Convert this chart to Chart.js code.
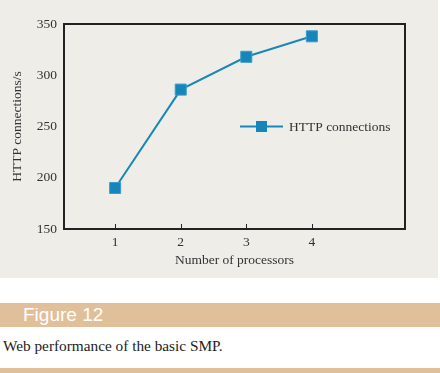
<!DOCTYPE html>
<html>
<head>
<meta charset="utf-8">
<title>Figure 12</title>
<script src="https://cdn.jsdelivr.net/npm/chart.js"></script>
<style>
  html, body { margin: 0; padding: 0; background: #fff; width: 440px; height: 373px; overflow: hidden; }
  #panel { position: absolute; left: 0; top: 0; width: 438px; height: 278px; background: #efede8; }
  #banner { position: absolute; left: 0; top: 303px; width: 440px; height: 24px; background: #e0c09a;
    color: #fff; font: 19px "Liberation Sans", Arial, sans-serif; line-height: 24px; }
  #banner span { position: absolute; left: 23px; top: 0; }
  #caption { position: absolute; left: 3px; top: 337px; font: 15.3px "Liberation Serif", "Times New Roman", serif; color: #222; }
  #bottomband { position: absolute; left: 0; top: 368px; width: 440px; height: 5px; background: #e0c09a; }
</style>
</head>
<body>
<div id="panel"><canvas id="lineChart" width="438" height="278"></canvas></div>
<div id="banner"><span>Figure 12</span></div>
<div id="caption">Web performance of the basic SMP.</div>
<div id="bottomband"></div>

<script>
var processors = [1, 2, 3, 4];
var connections = [190, 286, 318, 338];
var seriesLabel = 'HTTP connections';
var yTicks = [150, 200, 250, 300, 350];

var serif = '"Liberation Serif", "Times New Roman", serif';
var lineColor = '#1a87bb';

// inside tick marks on the x axis, and the legend drawn inside the plot
var extras = {
  id: 'extras',
  afterDatasetsDraw: function(chart) {
    var ctx = chart.ctx;
    var x = chart.scales.x, y = chart.scales.y;
    ctx.save();
    ctx.strokeStyle = '#222';
    ctx.lineWidth = 1;
    processors.forEach(function(p) {
      var px = Math.round(x.getPixelForValue(p)) + 0.5;
      ctx.beginPath();
      ctx.moveTo(px, chart.chartArea.bottom);
      ctx.lineTo(px, chart.chartArea.bottom - 5);
      ctx.stroke();
    });
    // legend
    var ly = y.getPixelForValue(250);
    var lx = 240;
    ctx.strokeStyle = lineColor;
    ctx.lineWidth = 2;
    ctx.beginPath();
    ctx.moveTo(lx, ly);
    ctx.lineTo(lx + 43, ly);
    ctx.stroke();
    ctx.fillStyle = '#1585ba';
    ctx.fillRect(lx + 16, ly - 5.5, 11, 11);
    ctx.fillStyle = '#333';
    ctx.font = '13.5px ' + serif;
    ctx.textBaseline = 'middle';
    ctx.fillText(seriesLabel, lx + 49, ly + 1);
    ctx.restore();
  }
};

var ctx = document.getElementById('lineChart').getContext('2d');
var chart = new Chart(ctx, {
  type: 'line',
  data: {
    datasets: [{
      label: seriesLabel,
      data: processors.map(function(p, i) { return { x: p, y: connections[i] }; }),
      borderColor: lineColor,
      borderWidth: 2,
      backgroundColor: '#1585ba',
      pointStyle: 'rect',
      pointRadius: 7.8,
      pointBorderColor: '#3a9ccb',
      pointBorderWidth: 1,
      tension: 0
    }]
  },
  options: {
    responsive: false,
    animation: false,
    layout: { padding: { left: 0, right: 33, top: 24, bottom: 0 } },
    plugins: { legend: { display: false }, tooltip: { enabled: false } },
    scales: {
      x: {
        type: 'linear',
        min: 0.22,
        max: 5.42,
        afterBuildTicks: function(scale) {
          scale.ticks = processors.map(function(v) { return { value: v }; });
        },
        afterFit: function(scale) { scale.height = 49; },
        grid: { display: false, drawTicks: false },
        border: { display: true, color: '#222', width: 2 },
        ticks: { color: '#333', font: { family: serif, size: 13.5 }, padding: 5 },
        title: { display: true, text: 'Number of processors', color: '#333', font: { family: serif, size: 13.5 }, padding: { top: 0, bottom: 9 } }
      },
      y: {
        min: 150,
        max: 350,
        afterBuildTicks: function(scale) {
          scale.ticks = yTicks.map(function(v) { return { value: v }; });
        },
        afterFit: function(scale) { scale.width = 64; },
        grid: { display: false, drawTicks: false },
        border: { display: true, color: '#222', width: 2 },
        ticks: { color: '#333', font: { family: serif, size: 13.5 }, padding: 7 },
        title: { display: true, text: 'HTTP connections/s', color: '#333', font: { family: serif, size: 13.5 }, padding: { top: 9, bottom: 0 } }
      }
    }
  },
  plugins: [extras, {
    id: 'frame',
    afterDraw: function(chart) {
      var a = chart.chartArea, c = chart.ctx;
      c.save();
      c.strokeStyle = '#222';
      c.lineWidth = 2;
      c.strokeRect(a.left, a.top, a.right - a.left, a.bottom - a.top);
      c.restore();
    }
  }]
});
</script>
</body>
</html>
